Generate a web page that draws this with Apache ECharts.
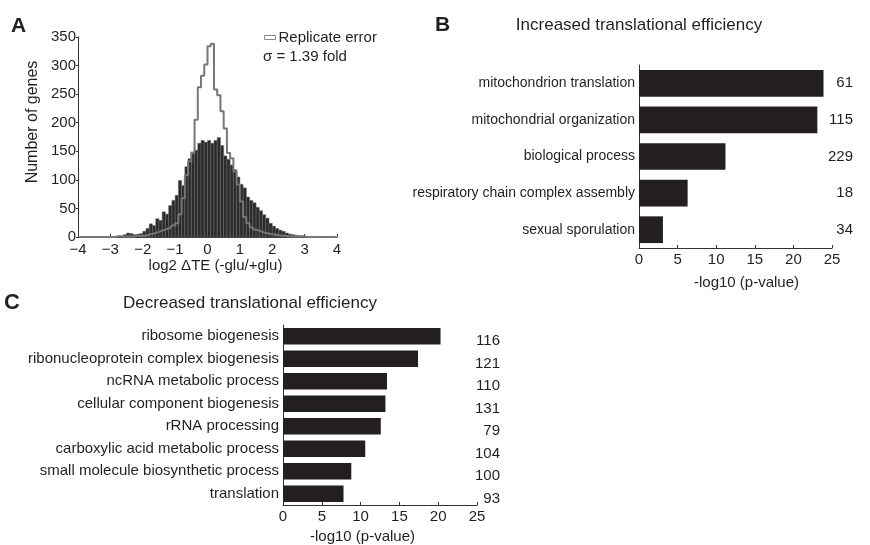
<!DOCTYPE html>
<html>
<head>
<meta charset="utf-8">
<script src="https://cdn.jsdelivr.net/npm/echarts@6/dist/echarts.min.js"></script>
<style>
  html, body { margin: 0; padding: 0; background: #fff; }
  #chart { width: 870px; height: 545px; }
</style>
</head>
<body>
<div id="chart"></div>
<script>
// histogram bins: log2 dTE, 0.1 wide from -4 to 4
const binStart = -4
const binWidth = 0.1
const teCounts = [
  0, 0, 0, 0, 1, 0, 1, 0, 1, 1, 1, 1, 2,
  2, 4, 7, 6, 4, 5, 6,
  10, 15, 23, 20, 32, 29, 44, 40, 55, 64,
  73, 99, 90, 123, 137, 146, 152, 164, 169, 166,
  169, 164, 169, 174, 160, 142, 136, 126, 118, 105,
  92, 86, 70, 64, 60, 52, 46, 39, 33, 24,
  19, 15, 12, 10, 7, 5, 4, 3, 2, 2,
  1, 1, 1, 1, 0, 1, 0, 0, 0, 0
]
const replicateCounts = [
  0, 0, 0, 0, 0, 0, 0, 0, 0, 0, 0, 0, 1, 1, 1, 1, 1, 1, 2, 2,
  2, 3, 5, 6, 8, 10, 12, 14, 16, 20,
  24, 40, 68, 108, 132, 148, 205, 262, 282, 302,
  334, 338, 258, 248, 220, 190, 147, 138, 115, 92,
  62, 35, 24, 17, 13, 11, 9, 7, 6, 5,
  4, 3, 2, 2,
  1, 1, 1, 1, 1, 1, 0, 0, 0, 0, 0, 0, 0, 0, 0, 0
]

// GO terms, increased TE
const upTerms = ['mitochondrion translation', 'mitochondrial organization', 'biological process',
  'respiratory chain complex assembly', 'sexual sporulation']
const upPvals = [23.9, 23.1, 11.2, 6.3, 3.1]
const upGenes = [61, 115, 229, 18, 34]

// GO terms, decreased TE
const downTerms = ['ribosome biogenesis', 'ribonucleoprotein complex biogenesis', 'ncRNA metabolic process',
  'cellular component biogenesis', 'rRNA processing', 'carboxylic acid metabolic process',
  'small molecule biosynthetic process', 'translation']
const downPvals = [20.3, 17.4, 13.4, 13.2, 12.6, 10.6, 8.8, 7.8]
const downGenes = [116, 121, 110, 131, 79, 104, 100, 93]

const ink = '#231f20'
const font = "'Liberation Sans', Arial, Helvetica, sans-serif"

const axisLine = { show: true, onZero: false, lineStyle: { color: '#333', width: 1 } }
const pvalAxis = (gridIndex, nameGap, namePad) => ({
  type: 'value',
  gridIndex,
  min: 0,
  max: 25,
  interval: 5,
  axisLine,
  axisTick: { show: true, inside: true, length: 3, lineStyle: { color: '#333' } },
  axisLabel: { fontSize: 15, color: ink, margin: 4 },
  splitLine: { show: false },
  name: '-log10 (p-value)',
  nameLocation: 'middle',
  nameGap,
  nameTextStyle: { fontSize: 15, color: ink, padding: namePad }
})
const termAxis = (gridIndex, data, size) => ({
  type: 'category',
  gridIndex,
  data,
  inverse: true,
  axisLine,
  axisTick: { show: false },
  axisLabel: { fontSize: size, color: ink, margin: 4 }
})
const geneAxis = (gridIndex, data, margin, drop) => ({
  type: 'category',
  gridIndex,
  position: 'right',
  data,
  inverse: true,
  axisLine: { show: false },
  axisTick: { show: false },
  axisLabel: {
    align: 'right',
    margin,
    formatter: v => '{n|' + v + '}',
    rich: { n: { fontSize: 15, color: ink, padding: [drop, 0, 0, 0] } }
  }
})

const chart = echarts.init(document.getElementById('chart'))
chart.setOption({
  animation: false,
  textStyle: { fontFamily: font },
  title: [
    { text: 'A', left: 11, top: 16, padding: 0, textStyle: { fontSize: 21, fontWeight: 'bold', color: ink } },
    { text: 'B', left: 435, top: 15, padding: 0, textStyle: { fontSize: 21, fontWeight: 'bold', color: ink } },
    { text: 'C', left: 4, top: 292, padding: 0, textStyle: { fontSize: 22, fontWeight: 'bold', color: ink } },
    { text: 'Increased translational efficiency', left: 639, top: 17, textAlign: 'center', padding: 0,
      textStyle: { fontSize: 17, fontWeight: 'normal', color: ink } },
    { text: 'Decreased translational efficiency', left: 250, top: 295, textAlign: 'center', padding: 0,
      textStyle: { fontSize: 17, fontWeight: 'normal', color: ink } },
    { text: '\u03c3 = 1.39 fold', left: 263, top: 49, padding: 0,
      textStyle: { fontSize: 15, fontWeight: 'normal', color: ink } }
  ],
  legend: {
    left: 264,
    top: 30,
    padding: 0,
    itemWidth: 11,
    itemHeight: 4,
    textStyle: { fontSize: 15, color: ink, padding: [0, 0, 0, -2] },
    data: [{
      name: 'Replicate error',
      icon: 'rect',
      itemStyle: { color: '#fff', borderColor: '#888', borderWidth: 1 },
      lineStyle: { opacity: 0 }
    }]
  },
  grid: [
    { left: 78, top: 37, width: 259, height: 200 },
    { left: 639, top: 65, width: 193, height: 183 },
    { left: 283, top: 325, width: 194, height: 183 }
  ],
  xAxis: [
    {
      type: 'value',
      gridIndex: 0,
      min: -4,
      max: 4,
      interval: 1,
      axisLine,
      axisTick: { show: true, inside: true, length: 3, lineStyle: { color: '#333' } },
      axisLabel: {
        fontSize: 15, color: ink, margin: 5,
        formatter: v => (v < 0 ? '\u2212' + Math.abs(v) : String(v))
      },
      splitLine: { show: false },
      name: 'log2 \u0394TE (-glu/+glu)',
      nameLocation: 'middle',
      nameGap: 21,
      nameTextStyle: { fontSize: 15, color: ink, padding: [0, 0, 0, 16] }
    },
    pvalAxis(1, 27, [0, 0, 0, 22]),
    pvalAxis(2, 24, [0, 35, 0, 0])
  ],
  yAxis: [
    {
      type: 'value',
      gridIndex: 0,
      min: 0,
      max: 350,
      interval: 50,
      axisLine,
      axisTick: { show: true, length: 2, lineStyle: { color: '#333' } },
      axisLabel: { fontSize: 15, color: ink, margin: 2 },
      splitLine: { show: false },
      name: 'Number of genes',
      nameLocation: 'middle',
      nameGap: 37,
      nameTextStyle: { fontSize: 16, color: ink, padding: [0, 0, 0, 30] }
    },
    termAxis(1, upTerms, 14),
    geneAxis(1, upGenes, 21, 0),
    termAxis(2, downTerms, 15),
    geneAxis(2, downGenes, 23, 10)
  ],
  series: [
    {
      type: 'custom',
      name: 'log2 dTE',
      xAxisIndex: 0,
      yAxisIndex: 0,
      data: teCounts.map((c, i) => [binStart + i * binWidth, binStart + (i + 1) * binWidth, c]),
      encode: { x: [0, 1], y: 2 },
      renderItem: (params, api) => {
        const topLeft = api.coord([api.value(0), api.value(2)])
        const bottomRight = api.coord([api.value(1), 0])
        return {
          type: 'rect',
          shape: {
            x: topLeft[0],
            y: topLeft[1],
            width: bottomRight[0] - topLeft[0],
            height: bottomRight[1] - topLeft[1]
          },
          style: { fill: '#2b2b2b', stroke: '#666', lineWidth: 0.5 }
        }
      }
    },
    {
      type: 'line',
      name: 'Replicate error',
      xAxisIndex: 0,
      yAxisIndex: 0,
      step: 'middle',
      showSymbol: false,
      z: 5,
      data: replicateCounts.map((c, i) => [binStart + (i + 0.5) * binWidth, c]),
      itemStyle: { color: '#777' },
      lineStyle: { color: '#777', width: 2 }
    },
    {
      type: 'bar',
      xAxisIndex: 1,
      yAxisIndex: 1,
      data: upPvals,
      barWidth: '73%',
      itemStyle: { color: ink }
    },
    {
      type: 'bar',
      xAxisIndex: 2,
      yAxisIndex: 3,
      data: downPvals,
      barWidth: '73%',
      itemStyle: { color: ink }
    }
  ]
})
</script>
</body>
</html>
